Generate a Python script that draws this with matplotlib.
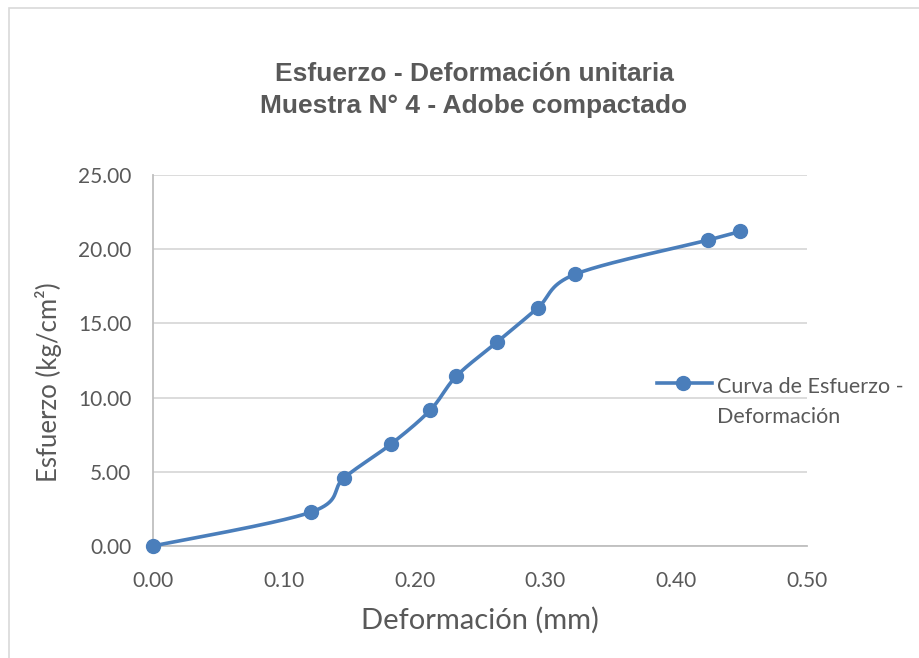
import numpy as np
import matplotlib
matplotlib.use("Agg")
import matplotlib.pyplot as plt
from matplotlib.lines import Line2D
from matplotlib.patches import Rectangle

# Stress-strain readings for sample 4 (compacted adobe)
deformacion = [0.000, 0.121, 0.146, 0.182, 0.212, 0.232, 0.263, 0.294, 0.323, 0.424, 0.449]
esfuerzo = [0.00, 2.29, 4.58, 6.87, 9.16, 11.45, 13.74, 16.03, 18.32, 20.61, 21.20]

x_ticks = [0.0, 0.1, 0.2, 0.3, 0.4, 0.5]
y_ticks = [0.0, 5.0, 10.0, 15.0, 20.0, 25.0]

title_lines = ["Esfuerzo - Deformación unitaria", "Muestra N° 4 - Adobe compactado"]
x_label = "Deformación (mm)"
y_label = "Esfuerzo (kg/cm²)"
series_lines = ["Curva de Esfuerzo -", "Deformación"]

BLUE = "#4a7ebb"
TEXT = "#595959"
GRID = "#d9d9d9"
AXIS = "#bfbfbf"
BODY_FONT = ["Lato", "DejaVu Sans"]
TITLE_FONT = ["Liberation Sans", "DejaVu Sans"]


def smooth_curve(xs, ys, steps=40):
    """Catmull-Rom style cubic Bezier smoothing through every point."""
    p = np.column_stack([xs, ys]).astype(float)
    n = len(p)
    out = [p[0]]
    t = np.linspace(0, 1, steps)[1:, None]
    for i in range(n - 1):
        p0 = p[i - 1] if i > 0 else p[i]
        p1, p2 = p[i], p[i + 1]
        p3 = p[i + 2] if i + 2 < n else p[i + 1]
        c1 = p1 + (p2 - p0) / 6.0
        c2 = p2 - (p3 - p1) / 6.0
        seg = ((1 - t) ** 3) * p1 + 3 * ((1 - t) ** 2) * t * c1 \
            + 3 * (1 - t) * t ** 2 * c2 + t ** 3 * p2
        out.extend(seg)
    out = np.array(out)
    return out[:, 0], out[:, 1]


W, H = 919, 658
fig = plt.figure(figsize=(W / 100, H / 100), dpi=100)
fig.patch.set_facecolor("white")


def fx(px):
    return px / W


def fy(py):
    return 1 - py / H


# chart area frame
fig.add_artist(Rectangle((fx(8.5), -0.1), 1.2, fy(7.5) + 0.1,
                         transform=fig.transFigure, fill=False,
                         edgecolor="#d9d9d9", linewidth=1.2))

ax_l, ax_r, ax_t, ax_b = 153, 807, 175, 546
ax = fig.add_axes([fx(ax_l), fy(ax_b), (ax_r - ax_l) / W, (ax_b - ax_t) / H])
ax.set_xlim(0, 0.5)
ax.set_ylim(0, 25)
ax.set_xticks(x_ticks)
ax.set_yticks(y_ticks)
ax.set_xticklabels([f"{v:.2f}" for v in x_ticks])
ax.set_yticklabels([f"{v:.2f}" for v in y_ticks])
ax.tick_params(length=0, labelsize=15, labelcolor=TEXT)
ax.tick_params(axis="x", pad=18.0)
ax.tick_params(axis="y", pad=15.5)
for lbl in ax.get_xticklabels() + ax.get_yticklabels():
    lbl.set_family(BODY_FONT)

ax.yaxis.grid(True, color=GRID, linewidth=1.3)
ax.set_axisbelow(True)
for side in ("top", "right"):
    ax.spines[side].set_visible(False)
for side in ("left", "bottom"):
    ax.spines[side].set_color(AXIS)
    ax.spines[side].set_linewidth(1.3)

sx, sy = smooth_curve(deformacion, esfuerzo)
ax.plot(sx, sy, color=BLUE, linewidth=2.6, solid_capstyle="round",
        clip_on=False, zorder=3)
ax.plot(deformacion, esfuerzo, linestyle="none", marker="o", markersize=10,
        markerfacecolor=BLUE, markeredgecolor=BLUE, clip_on=False, zorder=4)

ax_h = ax_b - ax_t
ax_w = ax_r - ax_l
ax.set_xlabel(x_label, fontsize=21, color=TEXT, family=BODY_FONT)
ax.xaxis.set_label_coords((480 - ax_l) / ax_w, (ax_b - 620) / ax_h)
ax.xaxis.label.set_va("center")
ax.set_ylabel(y_label, fontsize=18.5, color=TEXT, family=BODY_FONT)
ax.yaxis.set_label_coords((49 - ax_l) / ax_w, (ax_b - 382) / ax_h)
ax.yaxis.label.set_va("center")

# two-line chart title
for text, base in zip(title_lines, (81, 113)):
    fig.text(fx(474), fy(base), text, ha="center", va="baseline",
             fontsize=19, fontweight="bold", color=TEXT, family=TITLE_FONT)

# series key on the right
ly = fy(383)
fig.add_artist(Line2D([fx(657), fx(712)], [ly, ly], transform=fig.transFigure,
                      color=BLUE, linewidth=2.6))
fig.add_artist(Line2D([fx(683)], [ly], transform=fig.transFigure, marker="o",
                      markersize=10, color=BLUE, linestyle="none"))
for text, base in zip(series_lines, (393, 423)):
    fig.text(fx(717), fy(base), text, ha="left", va="baseline",
             fontsize=15.5, color=TEXT, family=BODY_FONT)

fig.savefig("out.png", dpi=100, facecolor="white")
